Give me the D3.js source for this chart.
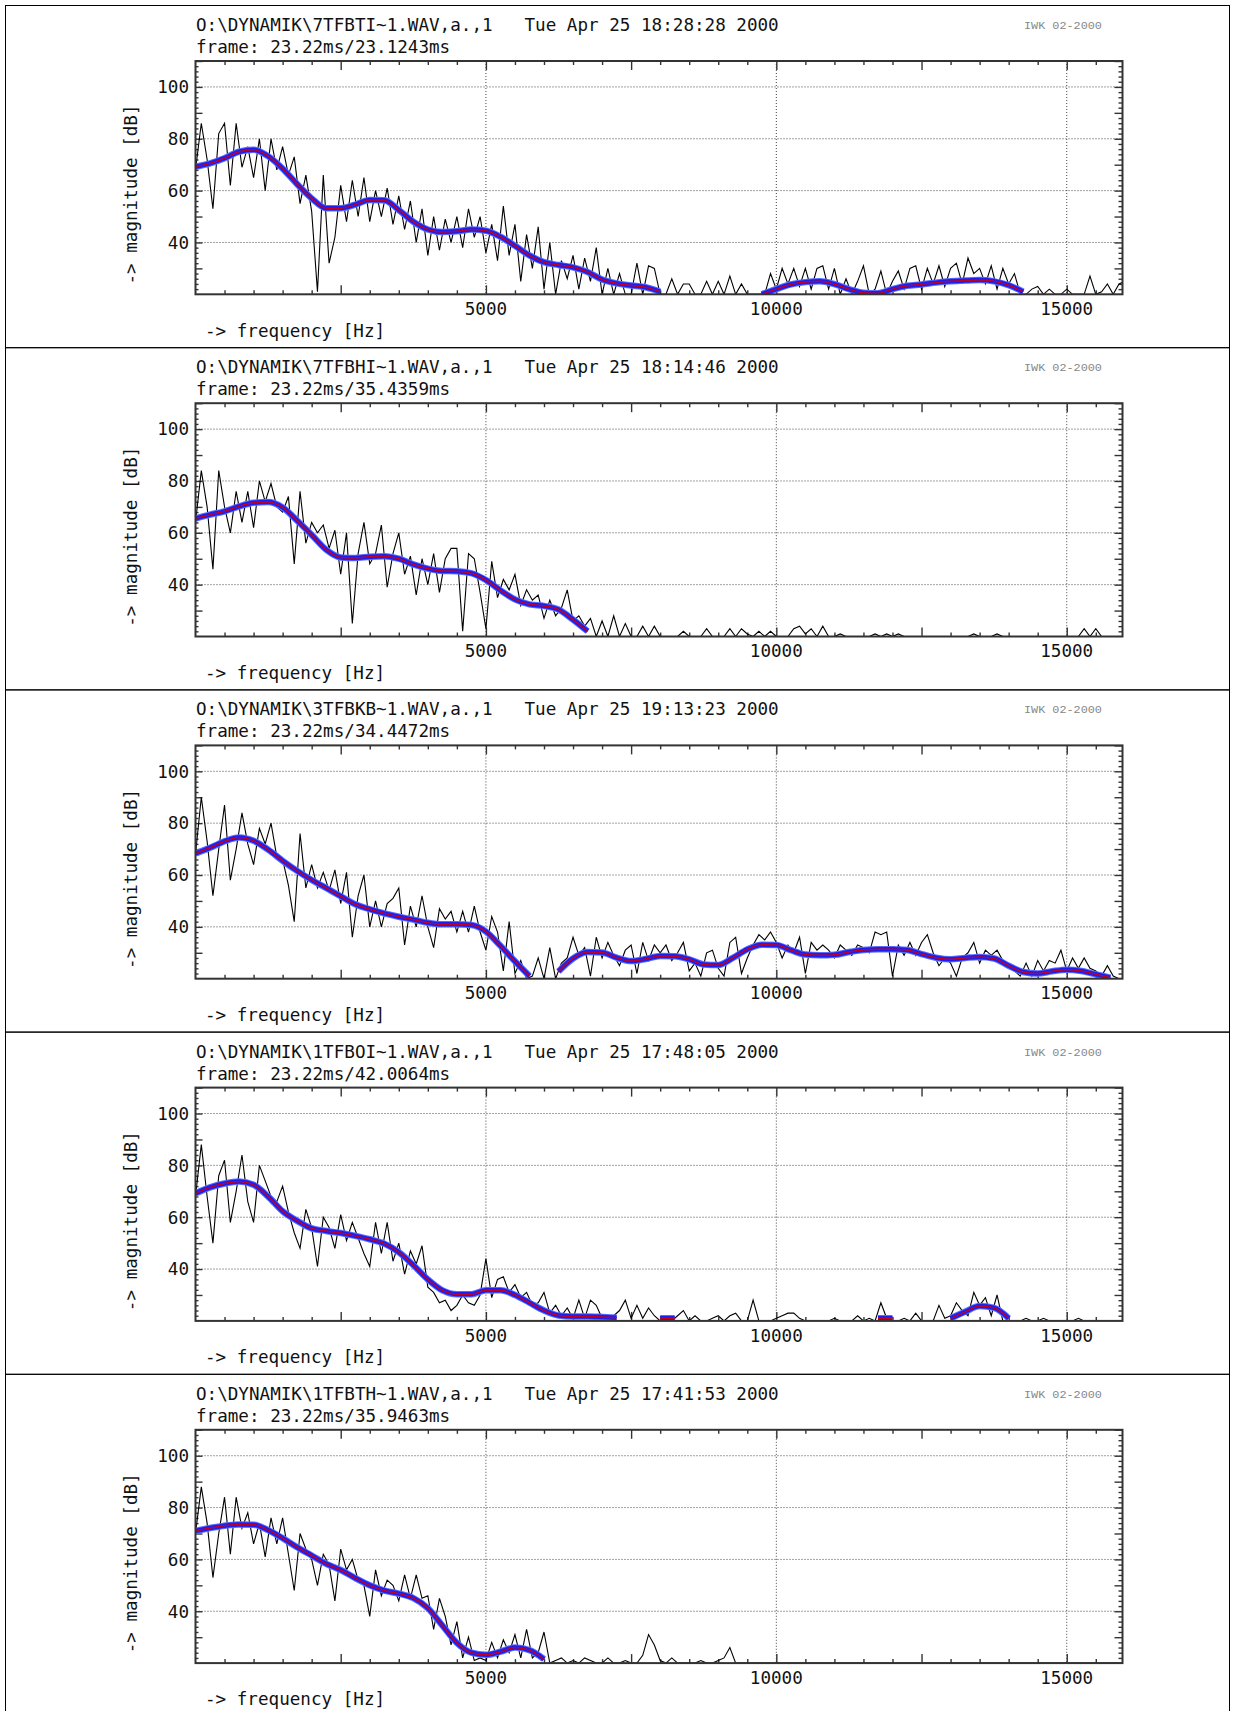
<!DOCTYPE html>
<html>
<head>
<meta charset="utf-8">
<script src="https://d3js.org/d3.v7.min.js"></script>
<style>
  body { margin: 0; background: #fff; }
  svg text { font-family: "DejaVu Sans Mono", "Liberation Mono", monospace; }
</style>
</head>
<body>
<div id="chart"></div>
<script>
// --- data ---------------------------------------------------------------

var fileNames = [
  "O:\\DYNAMIK\\7TFBTI~1.WAV,a.,1",
  "O:\\DYNAMIK\\7TFBHI~1.WAV,a.,1",
  "O:\\DYNAMIK\\3TFBKB~1.WAV,a.,1",
  "O:\\DYNAMIK\\1TFBOI~1.WAV,a.,1",
  "O:\\DYNAMIK\\1TFBTH~1.WAV,a.,1"
];
var recTimes = [
  "Tue Apr 25 18:28:28 2000",
  "Tue Apr 25 18:14:46 2000",
  "Tue Apr 25 19:13:23 2000",
  "Tue Apr 25 17:48:05 2000",
  "Tue Apr 25 17:41:53 2000"
];
var frameInfo = [
  "frame: 23.22ms/23.1243ms",
  "frame: 23.22ms/35.4359ms",
  "frame: 23.22ms/34.4472ms",
  "frame: 23.22ms/42.0064ms",
  "frame: 23.22ms/35.9463ms"
];

var xTickLabels = [5000, 10000, 15000];
var yTickLabels = [40, 60, 80, 100];

// spectrum: one value every 100 Hz from 0 Hz (dB, floor is 20)
var specStepHz = 100;
// smoothed envelope: one value every 250 Hz, null where it is not drawn
var envStepHz = 250;

var spec1 = [
  68,86,72,53,82,86,62,86,69,77,
  65,80,60,80,68,77,66,73,55,66,
  52,21,66,32,42,62,48,64,50,65,
  48,60,50,61,47,58,45,56,40,53,
  35,50,37,49,40,50,38,53,42,50,
  36,47,33,54,35,47,25,43,30,46,
  22,40,20,33,26,35,22,34,25,38,
  20,30,20,28,20,20,32,20,31,30,
  20,20,26,20,24,24,20,20,25,20,
  25,20,27,20,24,20,20,20,20,28,
  22,30,24,30,23,30,22,30,31,22,
  30,20,26,20,25,31,20,22,29,20,
  25,29,22,30,31,22,30,24,31,23,
  30,32,24,34,28,30,24,31,22,30,
  24,28,20,20,22,23,20,22,20,20,
  22,20,20,20,27,20,21,24,20,24,
  25
];
var spec2 = [
  64,84,70,46,84,70,60,76,64,76,
  62,80,72,79,70,68,74,48,76,56,
  64,60,63,54,61,44,60,25,52,64,
  48,52,63,39,52,60,44,51,36,50,
  40,52,37,50,54,54,22,52,50,37,
  23,49,35,42,38,44,32,38,34,36,
  27,34,28,31,38,26,28,24,27,20,
  26,20,28,20,25,20,20,24,20,24,
  20,20,20,20,22,20,20,20,23,20,
  20,20,23,20,23,21,20,22,20,22,
  20,20,20,23,24,21,23,20,24,20,
  20,21,20,20,20,20,20,21,20,21,
  20,21,20,20,20,20,20,20,20,20,
  20,20,20,20,21,20,20,20,21,20,
  20,20,20,20,20,20,20,20,20,20,
  20,20,20,23,20,23,20,20,20,20,
  20
];
var spec3 = [
  68,90,73,52,70,87,58,70,84,72,
  64,78,72,80,67,66,56,42,76,55,
  64,55,61,54,62,49,61,36,52,60,
  40,50,40,49,51,55,33,48,40,52,
  40,32,47,43,46,38,46,38,48,38,
  31,44,38,23,42,22,27,20,21,28,
  20,32,20,26,28,36,29,32,21,36,
  28,34,29,25,31,33,22,34,27,33,
  30,33,27,30,34,23,26,21,30,31,
  24,21,34,36,22,28,33,37,35,38,
  34,28,33,30,36,22,34,31,33,31,
  28,33,31,29,33,32,30,38,37,38,
  21,33,29,34,29,34,37,30,25,28,
  26,21,28,30,34,26,31,29,31,27,
  25,23,21,26,21,27,23,27,26,31,
  23,28,24,28,24,23,21,25,21,20,
  20
];
var spec4 = [
  68,88,68,50,76,82,58,70,84,66,
  58,80,74,68,66,72,62,54,48,63,
  56,41,60,56,48,61,51,58,52,46,
  41,58,46,58,43,50,38,47,42,49,
  33,31,27,28,24,26,30,27,26,30,
  44,29,36,37,31,34,29,31,26,27,
  31,23,26,22,25,21,28,21,28,26,
  21,20,22,24,28,21,26,21,25,22,
  20,20,20,22,24,20,22,20,20,21,
  22,20,22,23,20,20,28,20,20,20,
  21,22,23,23,21,20,20,20,20,20,
  21,20,20,20,22,20,21,20,27,21,
  20,20,21,20,23,20,20,20,26,21,
  22,27,24,22,31,26,29,22,30,20,
  20,20,20,21,20,20,21,20,20,20,
  20,20,21,20,20,20,20,20,20,20,
  20
];
var spec5 = [
  70,88,74,53,70,84,62,84,72,78,
  66,74,61,76,66,76,62,48,70,64,
  60,50,62,58,44,64,56,60,52,50,
  38,56,46,52,50,44,54,45,54,45,
  46,33,45,38,27,36,22,30,21,22,
  21,28,22,29,24,31,22,33,22,24,
  32,20,21,22,20,21,20,22,21,20,
  20,22,20,20,21,20,20,23,31,27,
  21,20,22,20,20,20,20,21,20,20,
  21,22,26,20,20,20,20,20,20,20,
  20,20,20,20,20,20,20,20,20,20,
  20,20,20,20,20,20,20,20,20,20,
  20,20,20,20,20,20,20,20,20,20,
  20,20,20,20,20,20,20,20,20,20,
  20,20,20,20,20,20,20,20,20,20,
  20,20,20,20,20,20,20,20,20,20,
  20
];

var env1 = [
  69.2,70.5,72.5,75,75.8,73.3,68.5,62.5,57,53.2,
  53.2,54.6,56.4,56.3,52.5,48,45,44,44.3,45,
  44.5,42.2,38.7,35,32.4,31.3,30.4,28.6,25.7,24.2,
  23.4,22.7,21,null,null,null,null,null,null,20,
  22,23.8,24.7,25,23.9,22,20.6,20.4,22,23.3,
  23.8,24.5,25,25.3,25.5,25,23.5,21,null,null,
  null,null,null,null,null
];
var env2 = [
  65.5,67,68.3,70.2,71.6,71.9,69.8,64.7,59.2,53.5,
  50.5,50.3,50.8,51,50,47.8,46.2,45.3,45.2,44.4,
  41.8,37.8,34.3,32.4,31.8,30.4,26.5,22,null,null,
  null,null,null,null,null,null,null,null,null,null,
  null,null,null,null,null,null,null,null,null,null,
  null,null,null,null,null,null,null,null,null,null,
  null,null,null,null,null
];
var env3 = [
  68.3,70.5,73,74.5,73.2,69.8,65.5,61.6,58.1,55,
  51.8,48.7,46.8,45.2,43.9,42.8,41.6,41,41,40.7,
  38.2,32.7,26.7,21,null,22.8,27.8,30.3,30.1,28.1,
  26.8,27.6,28.8,28.7,27.5,25.5,25.3,28,31.3,33.1,
  33,31,29.3,29,29.2,30.3,31.1,31.4,31.4,31.1,
  29.5,28.1,27.5,28,28.4,27.8,25,22.6,22,22.9,
  23.5,23,21.7,20.4,null
];
var env4 = [
  69.2,71.5,73,73.8,72.5,68,62.3,58.6,55.7,54.7,
  53.9,52.8,51.5,49.8,46.5,41.5,36,31.8,30.3,30.3,
  31.8,31.8,30,27,24,22.1,21.7,21.7,21.5,21.2,
  null,null,21,21,null,null,null,null,null,null,
  null,null,null,null,null,null,null,21,21,null,
  null,null,21,23.5,25.7,25,21,null,null,null,
  null,null,null,null,null
];
var env5 = [
  71,72.1,73,73.5,73.4,71.3,68.2,64.7,61.5,58.3,
  55.9,52.8,50,48,46.8,45.1,41.2,34.5,27.8,24,
  23.2,24.4,26,25,21.5,null,null,null,null,null,
  null,null,null,null,null,null,null,null,null,null,
  null,null,null,null,null,null,null,null,null,null,
  null,null,null,null,null,null,null,null,null,null,
  null,null,null,null,null
];

var spectra = [spec1, spec2, spec3, spec4, spec5];
var envelopes = [env1, env2, env3, env4, env5];

// --- layout --------------------------------------------------------------

var width = 1240, height = 1711;
var panelTop0 = 5.5, panelH = 342.2;
var plot = { left: 195.5, right: 1122.5, top: 55.5, bottom: 288.8 };
var fontSize = 17.6;

var svg = d3.select("#chart").append("svg")
    .attr("width", width)
    .attr("height", height);

// same scales for every panel, each panel lives in its own translated group
var x = d3.scaleLinear().domain([0, 15960]).range([plot.left, plot.right]);
var y = d3.scaleLinear().domain([20, 110]).range([plot.bottom, plot.top]);

svg.append("defs").append("clipPath")
    .attr("id", "plotclip")
  .append("rect")
    .attr("x", plot.left)
    .attr("y", plot.top - 3)
    .attr("width", plot.right - plot.left)
    .attr("height", plot.bottom - plot.top + 3);

// tick positions (500 Hz small, 2500 Hz long; 2 dB small, 10 dB long)
var xMinor = d3.range(500, 16000, 500).filter(function(f){ return f % 2500 != 0; });
var xMajor = d3.range(2500, 16000, 2500);
var yMinor = d3.range(22, 110, 2).filter(function(v){ return v % 10 != 0; });
var yMajor = d3.range(30, 111, 10);

var specLine = d3.line()
    .x(function(d, i){ return x(i * specStepHz); })
    .y(function(d){ return y(Math.max(20, d)); });

var envLine = d3.line()
    .defined(function(d){ return d != null; })
    .x(function(d, i){ return x(i * envStepHz); })
    .y(function(d){ return y(d); })
    .curve(d3.curveMonotoneX);

function tickAxis(g, axis, values, size) {
    g.call(axis.tickValues(values).tickSize(size).tickFormat(""));
    g.select(".domain").remove();
    g.selectAll(".tick line").attr("stroke", "#333").attr("stroke-width", 1.4);
}

spectra.forEach(function(spec, i) {

    var g = svg.append("g")
        .attr("transform", "translate(0," + (panelTop0 + i * panelH) + ")");

    // thin box round the whole panel
    g.append("rect")
        .attr("x", 5.5).attr("y", 0)
        .attr("width", 1224).attr("height", panelH)
        .attr("fill", "none").attr("stroke", "#000").attr("stroke-width", 1);

    // header lines
    g.append("text").attr("x", 196).attr("y", 25.5)
        .attr("font-size", fontSize).attr("fill", "#111").text(fileNames[i]);
    g.append("text").attr("x", 524.5).attr("y", 25.5)
        .attr("font-size", fontSize).attr("fill", "#111").text(recTimes[i]);
    g.append("text").attr("x", 196).attr("y", 47.5)
        .attr("font-size", fontSize).attr("fill", "#111").text(frameInfo[i]);
    g.append("text").attr("x", 1024).attr("y", 23.5)
        .attr("font-size", 11.8).attr("fill", "#888")
        .style("font-family", "'Liberation Mono', monospace")
        .text("IWK 02-2000");

    // dotted grid
    g.append("g").selectAll("line").data(yTickLabels).enter().append("line")
        .attr("x1", plot.left).attr("x2", plot.right)
        .attr("y1", function(d){ return y(d); }).attr("y2", function(d){ return y(d); })
        .attr("stroke", "#444").attr("stroke-width", 1).attr("stroke-dasharray", "1 2");
    g.append("g").selectAll("line").data(xTickLabels).enter().append("line")
        .attr("x1", function(d){ return x(d); }).attr("x2", function(d){ return x(d); })
        .attr("y1", plot.top).attr("y2", plot.bottom)
        .attr("stroke", "#444").attr("stroke-width", 1).attr("stroke-dasharray", "1 2");

    // inward ticks on all four sides
    tickAxis(g.append("g").attr("transform", "translate(0," + plot.top + ")"), d3.axisTop(x), xMinor, -4);
    tickAxis(g.append("g").attr("transform", "translate(0," + plot.top + ")"), d3.axisTop(x), xMajor, -9);
    tickAxis(g.append("g").attr("transform", "translate(0," + plot.bottom + ")"), d3.axisBottom(x), xMinor, -4);
    tickAxis(g.append("g").attr("transform", "translate(0," + plot.bottom + ")"), d3.axisBottom(x), xMajor, -9);
    tickAxis(g.append("g").attr("transform", "translate(" + plot.left + ",0)"), d3.axisLeft(y), yMinor, -3);
    tickAxis(g.append("g").attr("transform", "translate(" + plot.left + ",0)"), d3.axisLeft(y), yMajor, -7);
    tickAxis(g.append("g").attr("transform", "translate(" + plot.right + ",0)"), d3.axisRight(y), yMinor, -4);
    tickAxis(g.append("g").attr("transform", "translate(" + plot.right + ",0)"), d3.axisRight(y), yMajor, -8);

    // tick labels
    g.append("g").selectAll("text").data(yTickLabels).enter().append("text")
        .attr("x", 189).attr("y", function(d){ return y(d); }).attr("dy", "0.36em")
        .attr("text-anchor", "end").attr("font-size", fontSize).attr("fill", "#111")
        .text(function(d){ return d; });
    g.append("g").selectAll("text").data(xTickLabels).enter().append("text")
        .attr("x", function(d){ return x(d); }).attr("y", 309.5)
        .attr("text-anchor", "middle").attr("font-size", fontSize).attr("fill", "#111")
        .text(function(d){ return d; });

    // axis titles
    g.append("text").attr("x", 205).attr("y", 331)
        .attr("font-size", fontSize).attr("fill", "#111").text("-> frequency [Hz]");
    g.append("text")
        .attr("transform", "translate(137,189) rotate(-90)")
        .attr("text-anchor", "middle").attr("font-size", fontSize).attr("fill", "#111")
        .text("-> magnitude [dB]");

    // data: raw spectrum, then the envelope as a blue band with a red core
    var data = g.append("g").attr("clip-path", "url(#plotclip)");
    data.append("path").datum(spec)
        .attr("d", specLine)
        .attr("fill", "none").attr("stroke", "#000").attr("stroke-width", 1.1)
        .attr("stroke-linejoin", "miter");
    data.append("path").datum(envelopes[i])
        .attr("d", envLine)
        .attr("fill", "none").attr("stroke", "#5a6cff").attr("stroke-width", 6.5);
    data.append("path").datum(envelopes[i])
        .attr("d", envLine)
        .attr("fill", "none").attr("stroke", "#1a1ef0").attr("stroke-width", 4.5);
    data.append("path").datum(envelopes[i])
        .attr("d", envLine)
        .attr("fill", "none").attr("stroke", "#c4001e").attr("stroke-width", 1.5);

    // plot frame on top
    g.append("rect")
        .attr("x", plot.left).attr("y", plot.top)
        .attr("width", plot.right - plot.left).attr("height", plot.bottom - plot.top)
        .attr("fill", "none").attr("stroke", "#333").attr("stroke-width", 2);
});
</script>
</body>
</html>
